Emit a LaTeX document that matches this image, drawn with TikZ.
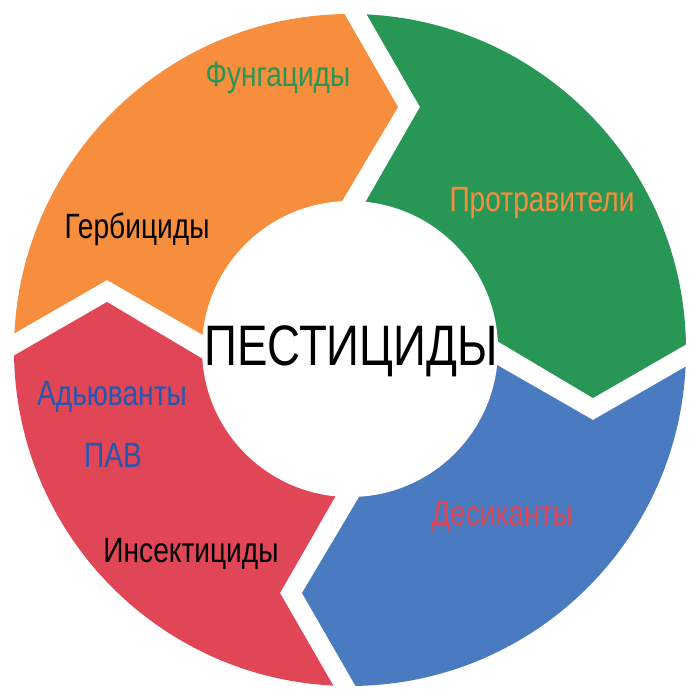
\documentclass[tikz,border=0pt]{standalone}
\usepackage{fontspec}
\setmainfont[FakeStretch=0.8]{Liberation Sans}
\definecolor{segorange}{HTML}{F68E3E}
\definecolor{seggreen}{HTML}{289655}
\definecolor{segblue}{HTML}{4A7BC0}
\definecolor{segred}{HTML}{E04656}
\definecolor{txtblue}{HTML}{2357B0}
\tikzset{
  label/.style={font=\fontsize{20}{22}\selectfont, anchor=base, inner sep=0pt},
  title/.style={font=\fontsize{32.5}{36}\selectfont, anchor=base, inner sep=0pt}
}
\begin{document}
\begin{tikzpicture}[x=0.02cm,y=0.02cm]
\useasboundingbox (-350,-350) rectangle (350,350);

\begin{scope}
\clip (0,0) circle (336);
% orange, top left
\fill[segorange] (0,0) -- (-100,-12) -- (-243,70) -- (-375,-6) -- (-420,420)
  -- (-28,375) -- (48,243) -- (-37,100) -- cycle;
% green, top right
\fill[seggreen, rotate=-90] (0,0) -- (-100,-12) -- (-243,70) -- (-375,-6) -- (-420,420)
  -- (-28,375) -- (48,243) -- (-37,100) -- cycle;
% blue, bottom right
\fill[segblue, rotate=-180] (0,0) -- (-100,-12) -- (-243,70) -- (-375,-6) -- (-420,420)
  -- (-28,375) -- (48,243) -- (-37,100) -- cycle;
% red, bottom left
\fill[segred, rotate=90] (0,0) -- (-100,-12) -- (-243,70) -- (-375,-6) -- (-420,420)
  -- (-28,375) -- (48,243) -- (-37,100) -- cycle;
\end{scope}

\fill[white] (0,1) circle (148);

\node[title] (pest) at (1,-15) {ПЕСТИЦИДЫ};

\node[label, text=seggreen] (fung) at (-72,263) {Фунгациды};
\node[label, text=segorange] (protr) at (192,138) {Протравители};
\node[label] (gerb) at (-213,112) {Гербициды};
\node[label, text=txtblue] (adj) at (-238,-55) {Адьюванты};
\node[label, text=txtblue] (pav) at (-237,-117) {ПАВ};
\node[label] (insect) at (-159,-212) {Инсектициды};
\node[label, text=segred] (desic) at (152,-175) {Десиканты};
\end{tikzpicture}
\end{document}
